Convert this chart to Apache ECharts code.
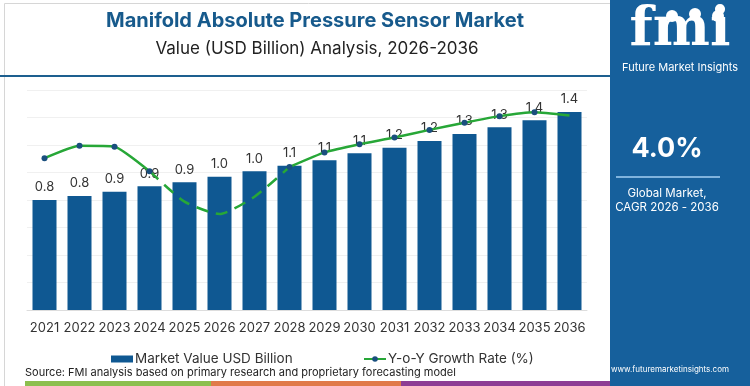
<!DOCTYPE html>
<html><head><meta charset="utf-8">
<script src="https://cdn.jsdelivr.net/npm/echarts@6/dist/echarts.min.js"></script>
<style>html,body{margin:0;padding:0;background:#fff}#c{width:750px;height:386px}</style>
</head><body><div id="c"></div>
<script>
const years = ['2021','2022','2023','2024','2025','2026','2027','2028','2029','2030','2031','2032','2033','2034','2035','2036'];
const marketValue = [0.80,0.83,0.86,0.90,0.93,0.97,1.01,1.05,1.09,1.14,1.18,1.23,1.28,1.33,1.38,1.44];
const growthRate = [5.52,5.97,5.94,5.05,3.94,3.49,4.12,5.20,5.73,6.03,6.27,6.55,6.81,7.05,7.19,7.07];
const dashedFrom = 3, dashedTo = 7;
const cagrText = '4.0%';

const solidLine = growthRate.map((v,i)=> (i>dashedFrom && i<dashedTo) ? '-' : (i===growthRate.length-1 ? {value:v, symbol:'none'} : v));
const dashedLine = growthRate.map((v,i)=> (i>=dashedFrom && i<=dashedTo) ? {value:v, symbol:'none'} : '-');

const font = 'Inter, "Noto Sans", sans-serif';
const chart = echarts.init(document.getElementById('c'), null, {renderer:'canvas'});
chart.setOption({
  animation:false,
  backgroundColor:'#fff',
  title:[
    {text:'Manifold Absolute Pressure Sensor Market', left:310, top:6, textAlign:'center',
     textStyle:{color:'#175a8c', fontSize:20, fontWeight:'bold', fontFamily:font}},
    {text:'Value (USD Billion) Analysis, 2026-2036', left:312, top:35, textAlign:'center',
     textStyle:{color:'#222', fontSize:17, fontWeight:'normal', fontFamily:font}}
  ],
  legend:[
    {left:106, top:347, itemWidth:22, itemHeight:7, itemGap:0,
     textStyle:{color:'#333', fontSize:13.5, fontFamily:font, padding:[0,0,0,-3]},
     data:[{name:'Market Value USD Billion', icon:'rect'}]},
    {left:358, top:347, itemWidth:22, itemHeight:7, itemGap:0,
     textStyle:{color:'#333', fontSize:13.5, fontFamily:font, padding:[0,0,0,-3]},
     data:[{name:'Y-o-Y Growth Rate (%)'}]}
  ],
  grid:{left:27, right:163, top:90, bottom:76},
  xAxis:{
    type:'category', data:years,
    axisLine:{lineStyle:{color:'#ddd'}},
    axisTick:{lineStyle:{color:'#ddd'}},
    axisLabel:{color:'#333', fontSize:13, fontFamily:font, margin:12, interval:0}
  },
  yAxis:[
    {type:'value', min:0, max:1.6, interval:0.2, axisLabel:{show:false}, axisLine:{show:false}, axisTick:{show:false},
     splitLine:{lineStyle:{color:'#f0f0f0'}}},
    {type:'value', min:0, max:8, interval:1, show:false, splitLine:{show:false}}
  ],
  series:[
    {name:'Market Value USD Billion', type:'bar', data:marketValue, barWidth:24,
     itemStyle:{color:'#0f5892'},
     label:{show:true, position:'top', distance:6, color:'#333', fontSize:13, fontFamily:font,
            formatter:p=>p.value.toFixed(1)}},
    {name:'Y-o-Y Growth Rate (%)', type:'line', yAxisIndex:1, data:solidLine, smooth:0.15, connectNulls:false,
     symbol:'circle', symbolSize:6, z:5,
     lineStyle:{color:'#27a737', width:2.5},
     itemStyle:{color:'#1a4f7e'}},
    {name:'Y-o-Y Growth Rate (%)', type:'line', yAxisIndex:1, data:dashedLine, smooth:0.2,
     symbol:'none', z:5,
     lineStyle:{color:'#27a737', width:2.5, type:[12,8]},
     itemStyle:{color:'#1a4f7e'}}
  ],
  graphic:[
    {type:'rect', left:2, top:1, shape:{width:608, height:384}, style:{fill:'none', stroke:'#d6d6d6', lineWidth:1}, z:-1},
    {type:'rect', left:0, top:75, shape:{width:610, height:2}, style:{fill:'#1d5f8f'}},
    {type:'rect', left:25, top:381, shape:{width:186, height:5}, style:{fill:'#8cbf4e'}},
    {type:'rect', left:211, top:381, shape:{width:190, height:5}, style:{fill:'#e07a4a'}},
    {type:'rect', left:401, top:381, shape:{width:209, height:5}, style:{fill:'#8e3c94'}},
    {type:'text', left:25, top:367, style:{text:'Source: FMI analysis based on primary research and proprietary forecasting model', fill:'#222', font:'11px '+font}},
    {type:'rect', left:610, top:0, shape:{width:140, height:386}, style:{fill:'#16609c'}},
    {type:'text', x:680, y:31, style:{text:'fmi', fill:'#fff', font:'bold 54px "DejaVu Serif", serif', align:'center', verticalAlign:'middle'}},
    {type:'circle', shape:{cx:672, cy:16, r:6}, style:{fill:'#fff'}},
    {type:'circle', shape:{cx:695, cy:14, r:6}, style:{fill:'#fff'}},
    {type:'circle', shape:{cx:718, cy:16, r:6}, style:{fill:'#fff'}},
    {type:'text', x:680, y:68, style:{text:'Future Market Insights', fill:'#fff', font:'11px '+font, align:'center', verticalAlign:'middle'}},
    {type:'text', x:667, y:149, style:{text:cagrText, fill:'#fff', font:'bold 27px '+font, align:'center', verticalAlign:'middle'}},
    {type:'rect', left:616, top:176, shape:{width:104, height:2}, style:{fill:'#7fb3dd'}},
    {type:'text', x:667, y:194, style:{text:'Global Market,', fill:'#fff', font:'11.5px '+font, align:'center', verticalAlign:'middle'}},
    {type:'text', x:667, y:208, style:{text:'CAGR 2026 - 2036', fill:'#fff', font:'11.5px '+font, align:'center', verticalAlign:'middle'}},
    {type:'text', left:611, top:366, style:{text:'www.futuremarketinsights.com', fill:'#fff', fontSize:8, fontFamily:'Inter'}}
  ]
});
</script></body></html>
